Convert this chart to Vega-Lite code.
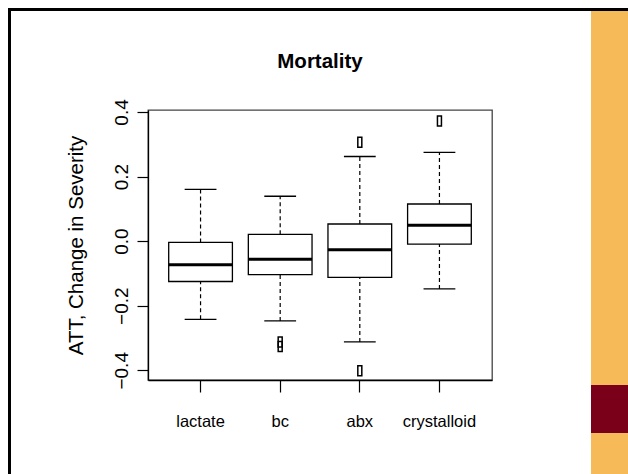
{
  "$schema": "https://vega.github.io/schema/vega-lite/v6.json",
  "background": "white",
  "padding": {"left": 8, "top": 8, "right": 0, "bottom": 0},
  "config": {"view": {"stroke": null}, "concat": {"spacing": 0}},
  "datasets": {
    "stats": [
      {"group": "lactate", "lower": -0.242, "q1": -0.125, "median": -0.073, "q3": -0.004, "upper": 0.160},
      {"group": "bc", "lower": -0.247, "q1": -0.104, "median": -0.056, "q3": 0.021, "upper": 0.139},
      {"group": "abx", "lower": -0.312, "q1": -0.112, "median": -0.027, "q3": 0.053, "upper": 0.262},
      {"group": "crystalloid", "lower": -0.148, "q1": -0.009, "median": 0.049, "q3": 0.115, "upper": 0.275}
    ],
    "outliers": [
      {"group": "bc", "value": -0.312},
      {"group": "bc", "value": -0.326},
      {"group": "abx", "value": 0.306},
      {"group": "abx", "value": -0.401},
      {"group": "crystalloid", "value": 0.372}
    ]
  },
  "columns": 5,
  "spacing": 0,
  "bounds": "flush",
  "concat": [
    {"width": 3, "height": 3, "view": {"fill": "black"}, "data": {"values": []}, "mark": "point"},
    {"width": 137, "height": 3, "view": {"fill": "black"}, "data": {"values": []}, "mark": "point"},
    {"width": 344, "height": 3, "view": {"fill": "black"}, "data": {"values": []}, "mark": "point"},
    {"width": 99, "height": 3, "view": {"fill": "black"}, "data": {"values": []}, "mark": "point"},
    {"width": 37, "height": 3, "view": {"fill": "black"}, "data": {"values": []}, "mark": "point"},

    {"width": 3, "height": 99, "view": {"fill": "black"}, "data": {"values": []}, "mark": "point"},
    {"width": 137, "height": 99, "data": {"values": []}, "mark": "point"},
    {"width": 344, "height": 99, "data": {"values": []}, "mark": "point"},
    {"width": 99, "height": 99, "data": {"values": []}, "mark": "point"},
    {"width": 37, "height": 99, "view": {"fill": "#F6BA58"}, "data": {"values": []}, "mark": "point"},

    {"width": 3, "height": 270, "view": {"fill": "black"}, "data": {"values": []}, "mark": "point"},
    {"width": 137, "height": 270, "data": {"values": []}, "mark": "point"},
    {
      "width": 344,
      "height": 270,
      "view": {"stroke": "#444", "strokeWidth": 1.3},
      "title": {"text": "Mortality", "font": "Liberation Sans, Arial, sans-serif", "fontSize": 20.5, "fontWeight": "bold", "color": "black", "anchor": "middle", "frame": "group", "baseline": "alphabetic", "offset": 10},
      "layer": [
        {
          "data": {"name": "stats"},
          "mark": {"type": "rule", "color": "black", "strokeWidth": 1.2, "strokeDash": [4, 3]},
          "encoding": {
            "x": {"field": "group", "type": "nominal", "sort": ["lactate", "bc", "abx", "crystalloid"],
              "scale": {"type": "band", "paddingInner": 0, "paddingOuter": 0.16},
              "axis": {"title": null, "labelAngle": 0, "labelFont": "Liberation Sans, Arial, sans-serif", "labelFontSize": 16.5, "labelColor": "black", "labelBaseline": "alphabetic", "labelPadding": 34,
                "tickColor": "black", "tickSize": 12, "tickWidth": 1.2, "domainColor": "black", "domainWidth": 1.3}},
            "y": {"field": "lower", "type": "quantitative",
              "scale": {"domain": [-0.43, 0.406], "nice": false, "zero": false},
              "axis": {"title": "ATT, Change in Severity", "values": [-0.4, -0.2, 0, 0.2, 0.4], "format": ".1f", "grid": false,
                "labelAngle": 270, "labelAlign": "center", "labelBaseline": "alphabetic", "labelFlush": false, "labelOverlap": false,
                "labelFont": "Liberation Sans, Arial, sans-serif", "labelFontSize": 19, "labelColor": "black", "labelPadding": 9.5,
                "tickColor": "black", "tickSize": 11, "tickWidth": 1.2, "domainColor": "black", "domainWidth": 1.3,
                "titleFont": "Liberation Sans, Arial, sans-serif", "titleFontSize": 20.5, "titleFontWeight": "normal", "titleColor": "black",
                "titleX": -66, "titleBaseline": "alphabetic", "titleAngle": 270}},
            "y2": {"field": "q1"}
          }
        },
        {
          "data": {"name": "stats"},
          "mark": {"type": "rule", "color": "black", "strokeWidth": 1.2, "strokeDash": [4, 3]},
          "encoding": {
            "x": {"field": "group", "type": "nominal", "sort": ["lactate", "bc", "abx", "crystalloid"]},
            "y": {"field": "q3", "type": "quantitative"},
            "y2": {"field": "upper"}
          }
        },
        {
          "data": {"name": "stats"},
          "mark": {"type": "tick", "color": "black", "size": 31.8, "thickness": 1.3, "opacity": 1},
          "encoding": {
            "x": {"field": "group", "type": "nominal", "sort": ["lactate", "bc", "abx", "crystalloid"]},
            "y": {"field": "lower", "type": "quantitative"}
          }
        },
        {
          "data": {"name": "stats"},
          "mark": {"type": "tick", "color": "black", "size": 31.8, "thickness": 1.3, "opacity": 1},
          "encoding": {
            "x": {"field": "group", "type": "nominal", "sort": ["lactate", "bc", "abx", "crystalloid"]},
            "y": {"field": "upper", "type": "quantitative"}
          }
        },
        {
          "data": {"name": "stats"},
          "mark": {"type": "bar", "fill": "white", "stroke": "black", "strokeWidth": 1.3, "width": {"band": 0.8}},
          "encoding": {
            "x": {"field": "group", "type": "nominal", "sort": ["lactate", "bc", "abx", "crystalloid"]},
            "y": {"field": "q1", "type": "quantitative"},
            "y2": {"field": "q3"}
          }
        },
        {
          "data": {"name": "stats"},
          "mark": {"type": "tick", "color": "black", "size": 63.7, "thickness": 3, "opacity": 1},
          "encoding": {
            "x": {"field": "group", "type": "nominal", "sort": ["lactate", "bc", "abx", "crystalloid"]},
            "y": {"field": "median", "type": "quantitative"}
          }
        },
        {
          "data": {"name": "outliers"},
          "mark": {"type": "point", "shape": "M-0.4,-1H0.4V1H-0.4Z", "size": 100, "filled": false, "stroke": "black", "strokeWidth": 1.5, "opacity": 1},
          "encoding": {
            "x": {"field": "group", "type": "nominal", "sort": ["lactate", "bc", "abx", "crystalloid"]},
            "y": {"field": "value", "type": "quantitative"}
          }
        },
        {
          "mark": {"type": "rule", "color": "red", "strokeWidth": 2, "strokeDash": [2, 4.5]},
          "encoding": {"y": {"datum": 0}}
        }
      ]
    },
    {"width": 99, "height": 270, "data": {"values": []}, "mark": "point"},
    {"width": 37, "height": 270, "view": {"fill": "#F6BA58"}, "data": {"values": []}, "mark": "point"},

    {"width": 3, "height": 5, "view": {"fill": "black"}, "data": {"values": []}, "mark": "point"},
    {"width": 137, "height": 5, "data": {"values": []}, "mark": "point"},
    {"width": 344, "height": 5, "data": {"values": []}, "mark": "point"},
    {"width": 99, "height": 5, "data": {"values": []}, "mark": "point"},
    {"width": 37, "height": 5, "view": {"fill": "#F6BA58"}, "data": {"values": []}, "mark": "point"},

    {"width": 3, "height": 48, "view": {"fill": "black"}, "data": {"values": []}, "mark": "point"},
    {"width": 137, "height": 48, "data": {"values": []}, "mark": "point"},
    {"width": 344, "height": 48, "data": {"values": []}, "mark": "point"},
    {"width": 99, "height": 48, "data": {"values": []}, "mark": "point"},
    {"width": 37, "height": 48, "view": {"fill": "#7A0019"}, "data": {"values": []}, "mark": "point"},

    {"width": 3, "height": 41, "view": {"fill": "black"}, "data": {"values": []}, "mark": "point"},
    {"width": 137, "height": 41, "data": {"values": []}, "mark": "point"},
    {"width": 344, "height": 41, "data": {"values": []}, "mark": "point"},
    {"width": 99, "height": 41, "data": {"values": []}, "mark": "point"},
    {"width": 37, "height": 41, "view": {"fill": "#F6BA58"}, "data": {"values": []}, "mark": "point"}
  ]
}
